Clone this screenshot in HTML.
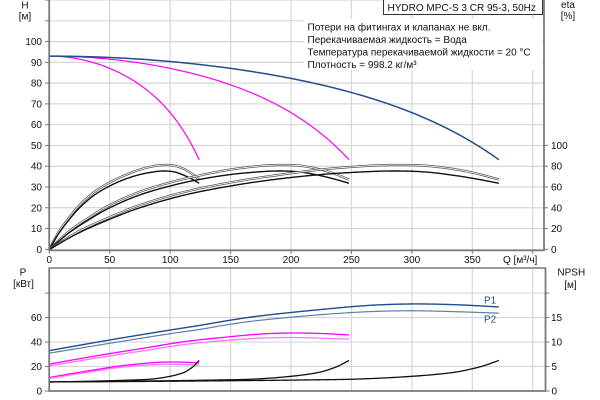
<!DOCTYPE html>
<html><head><meta charset="utf-8">
<style>
html,body{margin:0;padding:0;background:#fff;width:600px;height:400px;overflow:hidden;}
svg{display:block;}
text{font-family:"Liberation Sans",Arial,sans-serif;font-size:10px;fill:#111;}
.r{text-anchor:end;}
.m{text-anchor:middle;}
</style></head><body>
<svg id="c" width="600" height="400" viewBox="0 0 600 400" xmlns="http://www.w3.org/2000/svg">
<g id="grid" stroke="#d6d6d6" stroke-width="1.2" fill="none"></g>
<g id="curves" fill="none" stroke-linejoin="round" stroke-linecap="butt"></g>
<g id="axes" stroke="#7a7a7a" fill="none"></g>

<!-- note box -->
<rect x="304" y="19" width="238" height="51" fill="#fff"/>
<text x="307.5" y="30.5">Потери на фитингах и клапанах не вкл.</text>
<text x="307.5" y="43">Перекачиваемая жидкость = Вода</text>
<text x="307.5" y="55.5">Температура перекачиваемой жидкости = 20 °C</text>
<text x="307.5" y="68">Плотность = 998.2 кг/м³</text>

<rect x="383.5" y="-1" width="159" height="15.5" fill="#fff" stroke="#333" stroke-width="1"/>
<text x="387.5" y="11.2">HYDRO MPC-S 3 CR 95-3, 50Hz</text>

<!-- top axis titles -->
<text class="m" x="25" y="8.6">H</text>
<text class="m" x="25" y="19.6">[м]</text>
<text class="m" x="568" y="8">eta</text>
<text class="m" x="568" y="19.2">[%]</text>

<!-- top left labels -->
<text class="r" x="42" y="252.8">0</text>
<text class="r" x="42" y="232">10</text>
<text class="r" x="42" y="211.3">20</text>
<text class="r" x="42" y="190.5">30</text>
<text class="r" x="42" y="169.7">40</text>
<text class="r" x="42" y="149">50</text>
<text class="r" x="42" y="128.2">60</text>
<text class="r" x="42" y="107.4">70</text>
<text class="r" x="42" y="86.6">80</text>
<text class="r" x="42" y="65.9">90</text>
<text class="r" x="42" y="45.1">100</text>

<!-- top right labels -->
<text x="551" y="252.8">0</text>
<text x="551" y="232">20</text>
<text x="551" y="211.3">40</text>
<text x="551" y="190.5">60</text>
<text x="551" y="169.7">80</text>
<text x="551" y="149">100</text>

<!-- x labels -->
<text class="m" x="49.3" y="262.8">0</text>
<text class="m" x="109.7" y="262.8">50</text>
<text class="m" x="170.2" y="262.8">100</text>
<text class="m" x="230.6" y="262.8">150</text>
<text class="m" x="291" y="262.8">200</text>
<text class="m" x="351.5" y="262.8">250</text>
<text class="m" x="411.9" y="262.8">300</text>
<text class="m" x="472.3" y="262.8">350</text>
<text x="503" y="262.8">Q [м³/ч]</text>

<!-- bottom axis titles -->
<text class="m" x="23" y="275.7">P</text>
<text class="m" x="23.5" y="287.2">[кВт]</text>
<text class="m" x="571.3" y="275.7">NPSH</text>
<text class="m" x="570.5" y="288">[м]</text>

<!-- bottom left labels -->
<text class="r" x="42" y="394.5">0</text>
<text class="r" x="42" y="370">20</text>
<text class="r" x="42" y="345.5">40</text>
<text class="r" x="42" y="321.1">60</text>

<!-- bottom right labels -->
<text x="551.5" y="394.5">0</text>
<text x="551.5" y="370">5</text>
<text x="551" y="345.5">10</text>
<text x="551" y="321.1">15</text>

<text x="484" y="303.3" style="fill:#1f4e8c">P1</text>
<text x="484" y="322.7" style="fill:#1f4e8c">P2</text>
</svg>
<script>
(function(){
var NS="http://www.w3.org/2000/svg";
function X(Q){return 49.3+Q*1.2086;}
function Y(H){return 249.3-H*2.077;}
function YP(P){return 391-P*1.224;}
function YN(N){return 391-N*4.896;}
function add(g,tag,attrs){var e=document.createElementNS(NS,tag);for(var k in attrs)e.setAttribute(k,attrs[k]);document.getElementById(g).appendChild(e);return e;}
function line(g,x1,y1,x2,y2,st){var a={x1:x1,y1:y1,x2:x2,y2:y2};for(var k in st)a[k]=st[k];add(g,'line',a);}
// grid
var Qs=[50,100,150,200,250,300,350,400];
Qs.forEach(function(q){var x=X(q);line('grid',x,0,x,250,{});line('grid',x,268,x,391,{});});
for(var h=10;h<=120;h+=10){var y=Y(h);line('grid',49,y,544,y,{});}
[20,40,60,80].forEach(function(p){var y=YP(p);line('grid',49,y,545,y,{});});
// axes
var ax={'stroke-width':1.8};
line('axes',49.2,0,49.2,250.5,ax);
line('axes',48.5,250.3,544.5,250.3,ax);
line('axes',544,0,544,251,ax);
line('axes',49.2,268,49.2,391.8,ax);
line('axes',48.5,391,546,391,ax);
line('axes',545.5,268,545.5,391.8,ax);
line('axes',48.5,268,546,268,{'stroke-width':1.4});
var tk={'stroke-width':1};
for(var h=0;h<=120;h+=10){var y=Y(h);line('axes',45,y,49,y,tk);}
for(var e=0;e<=100;e+=20){var y=Y(e/2);line('axes',544,y,548,y,tk);}
[0,20,40,60,80].forEach(function(p){var y=YP(p);line('axes',45,y,49,y,tk);});
[0,5,10,15,20].forEach(function(n){var y=YN(n);line('axes',545.5,y,549.5,y,tk);});
[0].concat(Qs).forEach(function(q){var x=X(q);line('axes',x,250,x,254,tk);});
// interpolation
function mk(k){
  var n=k.length,m=[];
  for(var i=0;i<n;i++){
    if(i==0)m.push((k[1][1]-k[0][1])/(k[1][0]-k[0][0]));
    else if(i==n-1)m.push((k[n-1][1]-k[n-2][1])/(k[n-1][0]-k[n-2][0]));
    else m.push((k[i+1][1]-k[i-1][1])/(k[i+1][0]-k[i-1][0]));
  }
  return function(q){
    var i=0;while(i<n-2&&q>k[i+1][0])i++;
    var x0=k[i][0],x1=k[i+1][0],h=x1-x0,t=(q-x0)/h;
    var t2=t*t,t3=t2*t;
    return (2*t3-3*t2+1)*k[i][1]+(t3-2*t2+t)*h*m[i]+(-2*t3+3*t2)*k[i+1][1]+(t3-t2)*h*m[i+1];
  };
}
var fH=function(q){return 93-0.002336*q*q-3.84e-12*Math.pow(q,6);};
var e1=mk([[0,0],[8,8.5],[16.7,15.5],[25,21.3],[37,27.5],[50,32.2],[62,35.5],[75,38.4],[88,40.2],[96,40.6],[104,40.2],[112,38.5],[118,36.4],[124,33.6]]);
var e2=mk([[0,0],[8,7.8],[16.7,14.5],[25,20.0],[37,26],[50,30.5],[62,33.6],[75,36],[88,37.4],[96,37.7],[104,37.2],[112,35.5],[118,33.8],[124,31.8]]);
var p1=mk([[0,11],[16.7,13.9],[33.3,16.6],[41.7,17.9],[50,19.3],[58.5,20.5],[75,22.2],[88,23.3],[100,23.7],[112,23.5],[124,22.9]]);
var p2=mk([[0,10.3],[16.7,13.0],[33.3,15.6],[41.7,16.8],[50,18.2],[58.5,19.3],[75,20.8],[88,21.6],[100,21.85],[112,21.6],[124,21.2]]);
var np=mk([[0,1.85],[25,1.95],[50,2.1],[70,2.25],[83.3,2.4],[92,2.65],[100,3.0],[106,3.35],[112,3.85],[116.7,4.55],[120,5.2],[124,6.25]]);
function path(n,fn,yf,st){
  var d='';
  for(var q=0;q<=124.001;q+=0.5){
    var x=X(n*q),y=yf(fn(q));
    d+=(q==0?'M':'L')+x.toFixed(2)+' '+y.toFixed(2);
  }
  var a={d:d};for(var k in st)a[k]=st[k];add('curves','path',a);
}
var mag={stroke:'#ff00ff','stroke-width':1.2};
var blu={stroke:'#1f4e8c','stroke-width':1.5};
// H
path(1,fH,Y,mag);path(2,fH,Y,mag);path(3,fH,Y,blu);
// eta
[1,2,3].forEach(function(n){
  path(n,e1,Y,{stroke:'#555','stroke-width':2.3});
  path(n,e1,Y,{stroke:'#fff','stroke-width':0.8});
  path(n,e2,Y,{stroke:'#111','stroke-width':1.4});
});
// power
[1,2].forEach(function(n){
  path(n,function(q){return n*p1(q);},YP,{stroke:'#ff00ff','stroke-width':1.3});
  path(n,function(q){return n*p2(q);},YP,{stroke:'#ff77ff','stroke-width':1.3});
});
path(3,function(q){return 3*p1(q);},YP,{stroke:'#1f4e8c','stroke-width':1.4});
path(3,function(q){return 3*p2(q);},YP,{stroke:'#5f7ea3','stroke-width':1.2});
// NPSH
[1,2,3].forEach(function(n){path(n,np,YN,{stroke:'#111','stroke-width':1.3});});
})();
</script>
</body></html>
